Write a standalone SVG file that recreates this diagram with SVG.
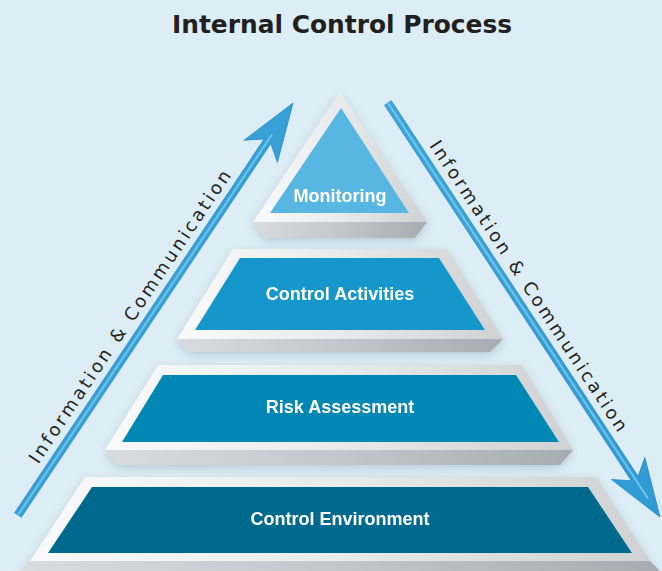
<svg xmlns="http://www.w3.org/2000/svg" width="662" height="571" viewBox="0 0 662 571">
  <defs>
    <style>
      .title { font-family: "DejaVu Sans", "Liberation Sans", sans-serif; font-weight: bold; font-size: 24.5px; fill: #231f20; }
      .lbl { font-family: "Liberation Sans", Arial, sans-serif; font-weight: bold; font-size: 18px; fill: #ffffff; text-anchor: middle; }
      .alb { font-family: "DejaVu Sans", "Liberation Sans", sans-serif; font-size: 18px; fill: #231f20; text-anchor: middle; }
      .frame { fill: url(#frameGrad); }
      .side { fill: url(#sideGrad); }
      .arrow { fill: url(#arrowGrad); stroke: #2389c2; stroke-width: 0.8; stroke-linejoin: miter; }
      .hl { stroke: #7fcdef; stroke-width: 2; stroke-linecap: butt; fill: none; opacity: 0.8; }
    </style>
    <linearGradient id="frameGrad" x1="0" y1="0" x2="1" y2="0">
      <stop offset="0" stop-color="#fafafa"/>
      <stop offset="0.5" stop-color="#e9eaeb"/>
      <stop offset="1" stop-color="#d0d1d3"/>
    </linearGradient>
    <linearGradient id="sideGrad" x1="0" y1="0" x2="1" y2="0">
      <stop offset="0" stop-color="#d9dbde"/>
      <stop offset="0.5" stop-color="#c3c6cb"/>
      <stop offset="1" stop-color="#a7abb3"/>
    </linearGradient>
    <linearGradient id="arrowGrad" x1="0" y1="0" x2="1" y2="1">
      <stop offset="0" stop-color="#3fa6da"/>
      <stop offset="1" stop-color="#2f9bd3"/>
    </linearGradient>
    <filter id="shadow" x="-10%" y="-20%" width="120%" height="150%">
      <feDropShadow dx="0" dy="3" stdDeviation="5" flood-color="#6f8796" flood-opacity="0.35"/>
    </filter>
  </defs>

  <rect width="662" height="571" fill="#ddedf6"/>

  <text class="title" x="342" y="33" text-anchor="middle" textLength="340" lengthAdjust="spacingAndGlyphs">Internal Control Process</text>

  <g id="control-environment" filter="url(#shadow)">
    <polygon class="side" points="30,561 650,561 660,571 20,571"/>
    <polygon class="frame" points="85,477 596,477 650,561 30,561"/>
    <polygon fill="#006a8e" points="92,487 588,487 632,553 48,553"/>
    <text class="lbl" x="340" y="525">Control Environment</text>
  </g>

  <g id="risk-assessment" filter="url(#shadow)">
    <polygon class="side" points="105,450 573,450 560,465 118,465"/>
    <polygon class="frame" points="158,365 522,365 573,450 105,450"/>
    <polygon fill="#0087b3" points="163,375 516,375 559,442 122,442"/>
    <text class="lbl" x="340" y="413">Risk Assessment</text>
  </g>

  <g id="control-activities" filter="url(#shadow)">
    <polygon class="side" points="177,339 503,339 490,352 190,352"/>
    <polygon class="frame" points="233,249 447,249 503,339 177,339"/>
    <polygon fill="#1797cb" points="240,258 439,258 485,330 195,330"/>
    <text class="lbl" x="340" y="300">Control Activities</text>
  </g>

  <g id="monitoring" filter="url(#shadow)">
    <polygon class="side" points="253,222 427,222 415,238 265,238"/>
    <polygon class="frame" points="340,92 427,222 253,222"/>
    <polygon fill="#58b6e2" points="341,108 409,213 270,213"/>
    <text class="lbl" x="340" y="202">Monitoring</text>
  </g>

  <g id="connectors">
    <g id="arrow-up">
      <polygon class="arrow" points="14.67,512.78 264.13,139.04 244.17,140.14 293,103 277.43,162.34 270.79,143.48 21.33,517.22"/>
      <line class="hl" x1="18" y1="515" x2="272" y2="134.5"/>
      <text class="alb" transform="translate(134.9,320.1) rotate(-56.27)" textLength="348" lengthAdjust="spacing">Information &amp; Communication</text>
    </g>
    <g id="arrow-down">
      <polygon class="arrow" points="391.34,100.8 638.08,476.35 644.87,457.54 660,517 611.43,479.5 631.4,480.75 384.66,105.2"/>
      <line class="hl" x1="388" y1="103" x2="648" y2="498.5"/>
      <text class="alb" transform="translate(523.5,289.2) rotate(56.7)" textLength="344" lengthAdjust="spacing">Information &amp; Communication</text>
    </g>
  </g>
</svg>
